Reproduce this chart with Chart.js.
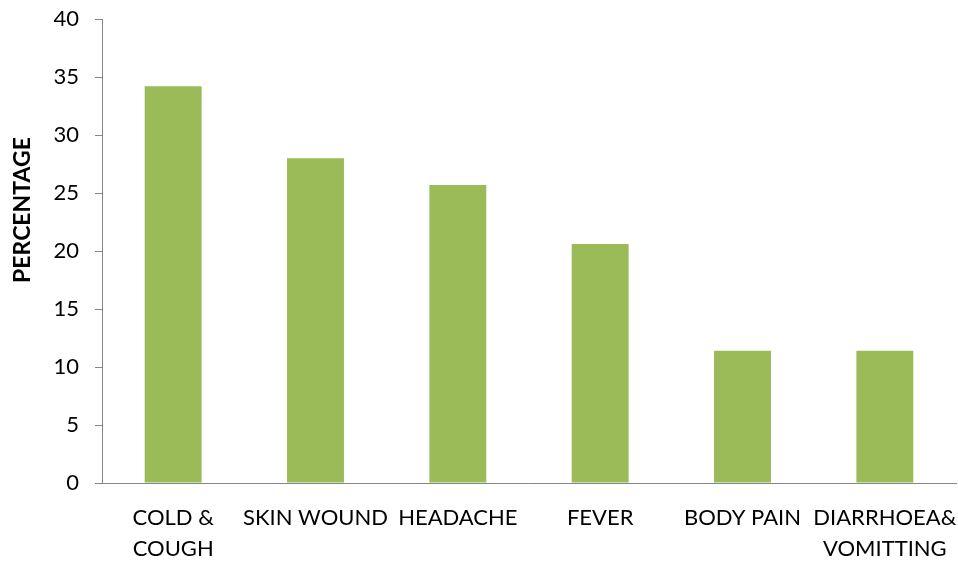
<!DOCTYPE html>
<html>
<head>
<meta charset="utf-8">
<script src="https://cdn.jsdelivr.net/npm/chart.js@4"></script>
<style>
  html, body { margin: 0; padding: 0; background: #fff; }
  #wrap { width: 958px; height: 564px; }
</style>
</head>
<body>
<div id="wrap"><canvas id="c" width="958" height="564"></canvas></div>
<script>
const categories = [["COLD &", "COUGH"], "SKIN WOUND", "HEADACHE", "FEVER", "BODY PAIN", ["DIARRHOEA&", "VOMITTING"]];
const percentages = [34.2, 28.0, 25.7, 20.6, 11.4, 11.4];
const yTicks = [0, 5, 10, 15, 20, 25, 30, 35, 40];
const yTitle = "PERCENTAGE";

const FONT = "Lato, 'Open Sans', sans-serif";

const titlePlugin = {
  id: 'yTitle',
  afterDraw(chart) {
    const ctx = chart.ctx;
    ctx.save();
    ctx.translate(23, 210);
    ctx.rotate(-Math.PI / 2);
    ctx.font = "bold 23px " + FONT;
    ctx.fillStyle = '#000';
    ctx.textAlign = 'center';
    ctx.textBaseline = 'middle';
    ctx.fillText(yTitle, 0, 0);
    ctx.restore();
  }
};

new Chart(document.getElementById('c'), {
  type: 'bar',
  data: {
    labels: categories,
    datasets: [{
      data: percentages,
      backgroundColor: '#9BBB59',
      borderWidth: 0,
      barPercentage: 0.4,
      categoryPercentage: 1.0
    }]
  },
  options: {
    responsive: false,
    animation: false,
    layout: { padding: { top: 19, right: 2, left: 0, bottom: 0 } },
    plugins: { legend: { display: false }, tooltip: { enabled: false } },
    scales: {
      x: {
        grid: { display: false, drawTicks: false },
        border: { color: '#868686', width: 1 },
        ticks: {
          color: '#000',
          font: { family: FONT, size: 22, lineHeight: 1.4 },
          padding: 20,
          maxRotation: 0,
          autoSkip: false
        },
        afterFit(s) { s.height = 81; s.paddingLeft = 0; s.paddingRight = 0; }
      },
      y: {
        min: 0, max: 40,
        afterBuildTicks(s) { s.ticks = yTicks.map(v => ({ value: v })); },
        grid: { drawOnChartArea: false, drawTicks: true, tickLength: 7, color: '#868686' },
        border: { color: '#868686', width: 1 },
        ticks: {
          color: '#000',
          font: { family: FONT, size: 22 },
          padding: 16
        },
        afterFit(s) { s.width = 102; s.paddingTop = 0; s.paddingBottom = 0; }
      }
    }
  },
  plugins: [titlePlugin]
});
</script>
</body>
</html>
